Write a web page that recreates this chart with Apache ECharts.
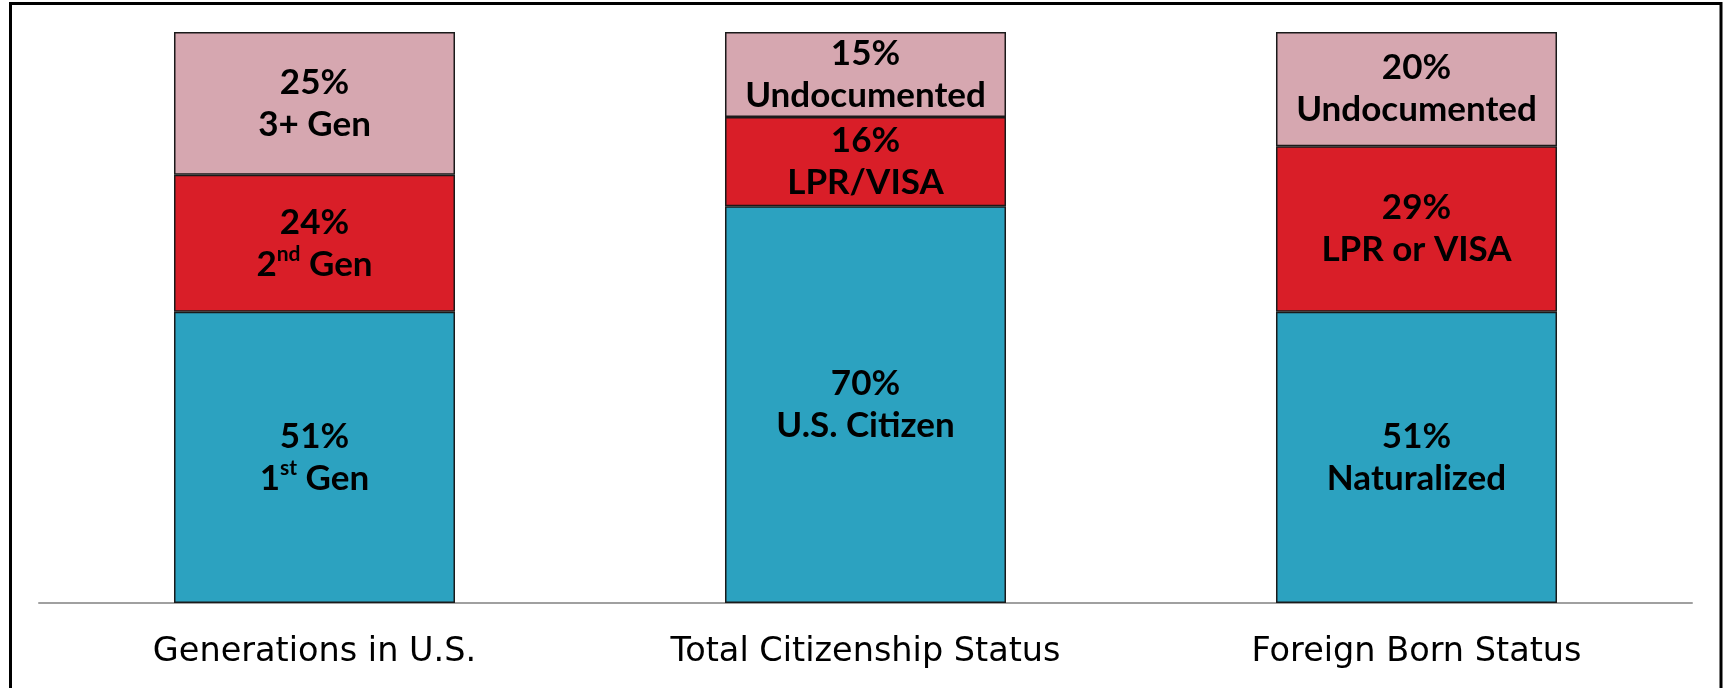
<!DOCTYPE html>
<html>
<head>
<meta charset="utf-8">
<script src="https://cdn.jsdelivr.net/npm/echarts@6/dist/echarts.min.js"></script>
<style>
  html, body { margin: 0; padding: 0; background: #fff; }
  #main { width: 1725px; height: 688px; }
</style>
</head>
<body>
<div id="main"></div>
<script>
// categories and stacked segment values (percent)
var categories = ['Generations in U.S.', 'Total Citizenship Status', 'Foreign Born Status'];
var bottomValues = [51, 69.5, 51];
var middleValues = [24, 15.6, 29];
var topValues = [25, 14.9, 20];

// text printed inside each segment
var bottomLabels = ['51%\n1{s|st} Gen', '70%\nU.S. Citizen', '51%\nNaturalized'];
var middleLabels = ['24%\n2{s|nd} Gen', '16%\nLPR/VISA', '29%\nLPR or VISA'];
var topLabels = ['25%\n3+ Gen', '15%\nUndocumented', '20%\nUndocumented'];

var myChart = echarts.init(document.getElementById('main'));

function segLabel(texts) {
  return {
    show: true,
    position: 'inside',
    color: '#000',
    fontFamily: 'Lato',
    fontWeight: 'bold',
    fontSize: 35,
    lineHeight: 42,
    formatter: function (p) { return texts[p.dataIndex]; },
    rich: {
      s: {
        fontFamily: 'Lato',
        fontWeight: 'bold',
        fontSize: 21,
        lineHeight: 30,
        verticalAlign: 'top',
        color: '#000'
      }
    }
  };
}

var segStyle = function (color) {
  return { color: color, borderColor: '#1a1a1a', borderWidth: 1.5 };
};

var option = {
  animation: false,
  backgroundColor: '#fff',
  grid: { left: 39, right: 33, top: 32, bottom: 85 },
  xAxis: {
    type: 'category',
    data: categories,
    axisTick: { show: false },
    axisLine: { lineStyle: { color: '#a0a0a0', width: 2 } },
    axisLabel: { color: '#000', fontFamily: 'DejaVu Sans', fontSize: 33.5, margin: 32 }
  },
  yAxis: {
    type: 'value',
    min: 0,
    max: 100,
    show: false
  },
  graphic: [{
    type: 'rect',
    shape: { x: 10.5, y: 3.5, width: 1710.5, height: 720 },
    style: { fill: null, stroke: '#000', lineWidth: 3 },
    silent: true,
    z: 100
  }],
  series: [
    {
      type: 'bar', stack: 'all', barWidth: '51%',
      data: bottomValues,
      itemStyle: segStyle('#2ca2c0'),
      label: segLabel(bottomLabels)
    },
    {
      type: 'bar', stack: 'all',
      data: middleValues,
      itemStyle: segStyle('#d91e28'),
      label: segLabel(middleLabels)
    },
    {
      type: 'bar', stack: 'all',
      data: topValues,
      itemStyle: segStyle('#d6a7b0'),
      label: segLabel(topLabels)
    }
  ]
};

myChart.setOption(option);
</script>
</body>
</html>
